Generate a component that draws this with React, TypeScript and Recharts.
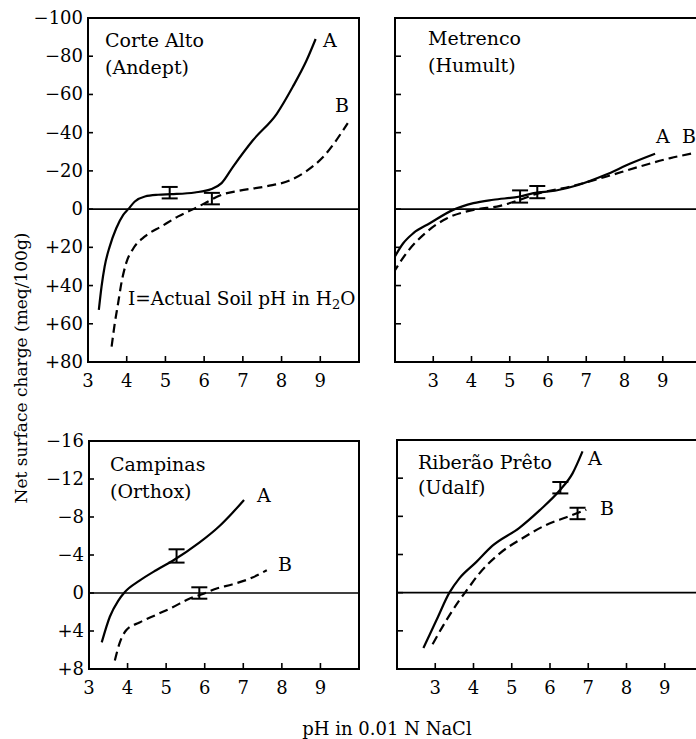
import React from "react";
import {
  ComposedChart,
  Line,
  Scatter,
  ErrorBar,
  XAxis,
  YAxis,
  ReferenceLine,
  ReferenceArea,
} from "recharts";

const FONT = "'DejaVu Serif', 'Liberation Serif', serif";

// tick values
const pHTicks = [3, 4, 5, 6, 7, 8, 9];
const topChargeTicks = [-100, -80, -60, -40, -20, 0, 20, 40, 60, 80];
const bottomChargeTicks = [-16, -12, -8, -4, 0, 4, 8];

// [pH, net charge meq/100g] (negative = plotted upward)
const corteAltoA: [number, number][] = [
  [3.28, 52.7], [3.35, 40.5], [3.43, 30], [3.56, 19.6], [3.73, 10], [3.91, 3],
  [4.04, 0], [4.21, -4], [4.47, -6.6], [4.81, -7.5], [5.16, -7.8], [5.76, -8.7],
  [6.19, -10.5], [6.45, -13.6], [6.74, -22], [7.26, -36], [7.88, -50],
  [8.29, -64], [8.65, -78], [8.88, -89],
];
const corteAltoB: [number, number][] = [
  [3.61, 72], [3.69, 60], [3.78, 49], [3.86, 39], [3.99, 28], [4.17, 20.6],
  [4.47, 14.3], [4.9, 9], [5.33, 3.8], [5.68, 0.4], [6.02, -3.1], [6.45, -7.5],
  [6.9, -9.6], [7.62, -12], [8.21, -15], [8.65, -20], [9.06, -27], [9.71, -45],
];
const corteAltoErr: [number, number, number][] = [
  [5.11, -8.6, 3],
  [6.2, -5.5, 3],
];

const metrencoA: [number, number][] = [
  [1.95, 26.5], [2.21, 18], [2.48, 12.6], [2.91, 7.4], [3.52, 0.4], [4.05, -3.1],
  [4.57, -4.9], [5.27, -6.6], [5.62, -8.4], [6.18, -9.6], [6.79, -12.6],
  [7.49, -17.8], [8.17, -24], [8.8, -29],
];
const metrencoB: [number, number][] = [
  [1.95, 33.6], [2.3, 23], [2.83, 11.9], [3.35, 4.9], [4.05, 0.4], [4.75, -1.7],
  [5.27, -4.9], [5.62, -7.5], [6.62, -12], [7.49, -16.8], [8.35, -22],
  [9.2, -26.7], [9.74, -29],
];
const metrencoErr: [number, number, number][] = [
  [5.27, -6.6, 3.2],
  [5.72, -8.9, 3.2],
];

const campinasA: [number, number][] = [
  [3.33, 5.2], [3.54, 2.5], [3.76, 0.8], [3.93, -0.1], [4.31, -1.3], [4.74, -2.4],
  [5.17, -3.4], [5.86, -5.3], [6.37, -7], [6.71, -8.4], [7.02, -9.8],
];
const campinasB: [number, number][] = [
  [3.67, 7.1], [3.8, 5.2], [3.97, 3.9], [4.31, 3.1], [4.74, 2.3], [5.17, 1.5],
  [5.6, 0.6], [5.95, 0.1], [6.33, -0.5], [6.71, -0.9], [7.22, -1.6], [7.61, -2.4],
];
const campinasErr: [number, number, number][] = [
  [5.27, -3.9, 0.7],
  [5.86, 0, 0.6],
];

const ribeiraoA: [number, number][] = [
  [2.69, 5.8], [3.03, 2.9], [3.37, 0], [3.63, -1.5], [4.07, -3.2], [4.49, -4.9],
  [5.2, -6.8], [5.72, -8.6], [6.25, -10.7], [6.59, -12.5], [6.85, -14.8],
];
const ribeiraoB: [number, number][] = [
  [2.93, 5.4], [3.29, 2.9], [3.63, 0.8], [3.85, -0.4], [4.15, -2], [4.68, -4.1],
  [5.28, -5.7], [5.9, -7.1], [6.43, -7.9], [6.95, -8.7],
];
const ribeiraoErr: [number, number, number][] = [
  [6.27, -11, 0.6],
  [6.72, -8.3, 0.6],
];

const toPts = (arr: [number, number][]) => arr.map(([x, y]) => ({ x, y }));
const toErr = (arr: [number, number, number][]) =>
  arr.map(([x, y, e]) => ({ x, y, e }));

const fmtCharge = (v: number) =>
  v > 0 ? `+${v}` : v < 0 ? `\u2212${Math.abs(v)}` : "0";

const XTick = (props: any) => {
  const { x, y, payload } = props;
  return (
    <g>
      <line x1={x} x2={x} y1={y} y2={y - 6} stroke="#000" strokeWidth={1.6} />
      <text x={x} y={y + 25} textAnchor="middle" fontFamily={FONT} fontSize={18} fill="#000">
        {payload.value}
      </text>
    </g>
  );
};

const YTickLabeled = (props: any) => {
  const { x, y, payload } = props;
  return (
    <g>
      <line x1={x} x2={x + 5} y1={y} y2={y} stroke="#000" strokeWidth={1.6} />
      <text x={x - 5} y={y + 6} textAnchor="end" fontFamily={FONT} fontSize={18} fill="#000">
        {fmtCharge(payload.value)}
      </text>
    </g>
  );
};

const YTickBare = (props: any) => {
  const { x, y } = props;
  return <line x1={x} x2={x + 6} y1={y} y2={y} stroke="#000" strokeWidth={1.6} />;
};

type PanelProps = {
  left: number;
  top: number;
  width: number;
  height: number;
  margin: { top: number; right: number; bottom: number; left: number };
  yWidth: number;
  xDomain: [number, number];
  yDomain: [number, number];
  yTicks: number[];
  labeled: boolean;
  a: [number, number][];
  b: [number, number][];
  err: [number, number, number][];
};

const Panel = (p: PanelProps) => (
  <div style={{ position: "absolute", left: p.left, top: p.top }}>
    <ComposedChart width={p.width} height={p.height} margin={p.margin}>
      <XAxis
        type="number"
        dataKey="x"
        domain={p.xDomain}
        ticks={pHTicks}
        interval={0}
        allowDataOverflow
        axisLine={false}
        tickLine={false}
        tickSize={0}
        tickMargin={0}
        height={30}
        tick={(t: any) => <XTick {...t} />}
      />
      <YAxis
        type="number"
        dataKey="y"
        domain={p.yDomain}
        ticks={p.yTicks}
        reversed
        interval={0}
        allowDataOverflow
        axisLine={false}
        tickLine={false}
        tickSize={0}
        tickMargin={0}
        width={p.yWidth}
        tick={(t: any) => (p.labeled ? <YTickLabeled {...t} /> : <YTickBare {...t} />)}
      />
      <ReferenceArea
        x1={p.xDomain[0]}
        x2={p.xDomain[1]}
        y1={p.yDomain[0]}
        y2={p.yDomain[1]}
        fill="none"
        fillOpacity={0}
        stroke="#000"
        strokeWidth={2}
        strokeOpacity={1}
      />
      <ReferenceLine y={0} stroke="#000" strokeWidth={1.6} />
      <Line
        data={toPts(p.a)}
        dataKey="y"
        type="monotone"
        stroke="#000"
        strokeWidth={2.2}
        dot={false}
        activeDot={false}
        isAnimationActive={false}
      />
      <Line
        data={toPts(p.b)}
        dataKey="y"
        type="monotone"
        stroke="#000"
        strokeWidth={2.2}
        strokeDasharray="9 5"
        dot={false}
        activeDot={false}
        isAnimationActive={false}
      />
      <Scatter data={toErr(p.err)} dataKey="y" shape={() => <g />} isAnimationActive={false}>
        <ErrorBar dataKey="e" direction="y" width={8} stroke="#000" strokeWidth={2} isAnimationActive={false} />
      </Scatter>
    </ComposedChart>
  </div>
);

const T = (props: { x: number; y: number; children: React.ReactNode; anchor?: string; size?: number }) => (
  <text
    x={props.x}
    y={props.y}
    fontFamily={FONT}
    fontSize={props.size || 19}
    fill="#000"
    textAnchor={props.anchor || "start"}
  >
    {props.children}
  </text>
);

export default function App() {
  return (
    <div
      style={{
        position: "absolute",
        left: 0,
        top: 0,
        width: 696,
        height: 739,
        overflow: "hidden",
        background: "#fff",
      }}
    >
      <Panel
        left={0}
        top={0}
        width={370}
        height={400}
        margin={{ top: 18, right: 11, bottom: 8, left: 0 }}
        yWidth={88}
        xDomain={[3, 10]}
        yDomain={[-100, 80]}
        yTicks={topChargeTicks}
        labeled
        a={corteAltoA}
        b={corteAltoB}
        err={corteAltoErr}
      />
      <Panel
        left={380}
        top={0}
        width={331}
        height={400}
        margin={{ top: 18, right: 10, bottom: 8, left: 0 }}
        yWidth={15}
        xDomain={[2, 10]}
        yDomain={[-100, 80]}
        yTicks={topChargeTicks}
        labeled={false}
        a={metrencoA}
        b={metrencoB}
        err={metrencoErr}
      />
      <Panel
        left={0}
        top={430}
        width={370}
        height={280}
        margin={{ top: 11, right: 11, bottom: 11, left: 0 }}
        yWidth={89}
        xDomain={[3, 10]}
        yDomain={[-16, 8]}
        yTicks={bottomChargeTicks}
        labeled
        a={campinasA}
        b={campinasB}
        err={campinasErr}
      />
      <Panel
        left={380}
        top={430}
        width={333}
        height={280}
        margin={{ top: 10, right: 10, bottom: 11, left: 0 }}
        yWidth={17}
        xDomain={[2, 10]}
        yDomain={[-16, 8]}
        yTicks={bottomChargeTicks}
        labeled={false}
        a={ribeiraoA}
        b={ribeiraoB}
        err={ribeiraoErr}
      />
      <svg
        width={696}
        height={739}
        style={{ position: "absolute", left: 0, top: 0, pointerEvents: "none" }}
      >
        <T x={105} y={47}>Corte Alto</T>
        <T x={105} y={74}>(Andept)</T>
        <T x={323} y={47}>A</T>
        <T x={335} y={112}>B</T>
        <text x={128} y={305} fontFamily={FONT} fontSize={18.5} fill="#000">
          I=Actual Soil pH in H
          <tspan fontSize={13} dy={4}>2</tspan>
          <tspan dy={-4}>O</tspan>
        </text>

        <T x={428} y={45}>Metrenco</T>
        <T x={428} y={72}>(Humult)</T>
        <T x={656} y={143}>A</T>
        <T x={682} y={143}>B</T>

        <T x={110} y={471}>Campinas</T>
        <T x={110} y={498}>(Orthox)</T>
        <T x={257} y={502}>A</T>
        <T x={278} y={571}>B</T>

        <T x={418} y={469}>Riberão Prêto</T>
        <T x={418} y={494}>(Udalf)</T>
        <T x={588} y={465}>A</T>
        <T x={600} y={515}>B</T>

        <text
          x={0}
          y={0}
          transform="translate(27,368) rotate(-90)"
          textAnchor="middle"
          fontFamily={FONT}
          fontSize={17}
          fill="#000"
        >
          Net surface charge (meq/100g)
        </text>
        <T x={387} y={735} anchor="middle" size={18}>pH in 0.01 N NaCl</T>
      </svg>
    </div>
  );
}
